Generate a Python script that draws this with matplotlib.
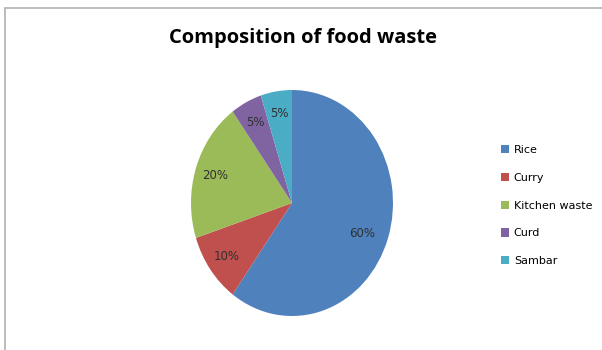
import matplotlib.pyplot as plt
from matplotlib.patches import Rectangle, Patch

# data
labels = ['Rice', 'Curry', 'Kitchen waste', 'Curd', 'Sambar']
shares = [60, 10, 20, 5, 5]
colors = ['#4F81BD', '#C0504D', '#9BBB59', '#8064A2', '#4BACC6']

W, H = 602, 350
fig = plt.figure(figsize=(W / 100, H / 100), dpi=100)

# chart frame (only left/top edges visible in the crop)
fig.patches.append(Rectangle((5 / W, -0.1), 1.2, 1 - 8 / H + 0.1,
                             transform=fig.transFigure, fill=False,
                             edgecolor='#B0B0B0', linewidth=1.2))

fig.text(0.503, 1 - 38 / H, 'Composition of food waste', ha='center', va='center',
         fontsize=14.5, fontweight='bold', family='Open Sans')

AX = fig.add_axes([(292 - 101) / W, (H - 316) / H, 202 / W, 226 / H])
wedges, texts, autotexts = AX.pie(shares, colors=colors, startangle=90, counterclock=False,
                                  autopct='%d%%', pctdistance=0.8, radius=1,
                                  textprops={'fontsize': 8.5, 'color': '#303030'})
autotexts[0].set_position((0.69, -0.27))
AX.set_xlim(-1, 1)
AX.set_ylim(-1, 1)
AX.set_aspect('auto')
AX.axis('off')

handles = [Patch(facecolor=c, label=l) for c, l in zip(colors, labels)]
fig.legend(handles=handles, loc='upper left', bbox_to_anchor=(491 / W, 1 - 135 / H),
           frameon=False, fontsize=8, handlelength=0.75, handleheight=0.75,
           handletextpad=0.4, labelspacing=1.6)

fig.savefig('out.png', dpi=100)
